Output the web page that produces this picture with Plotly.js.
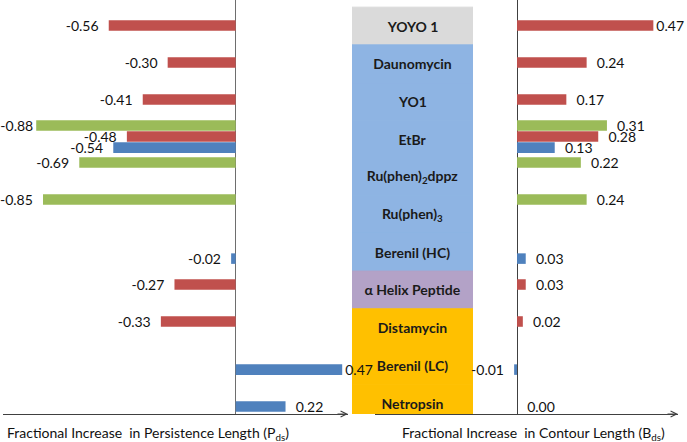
<!DOCTYPE html>
<html>
<head>
<meta charset="utf-8">
<script src="https://cdn.plot.ly/plotly-3.0.1.min.js"></script>
<style>html,body{margin:0;padding:0;background:#fff;}</style>
</head>
<body>
<div id="chart" style="width:687px;height:442px;"></div>
<script>
// ---- data ----
const categories = ["YOYO 1","Daunomycin","YO1","EtBr","Ru(phen)2dppz","Ru(phen)3","Berenil (HC)","α Helix Peptide","Distamycin","Berenil (LC)","Netropsin"];
const categoryLabels = ["YOYO 1","Daunomycin","YO1","EtBr","Ru(phen)<sub>2</sub>dppz","Ru(phen)<sub>3</sub>","Berenil (HC)","α Helix Peptide","Distamycin","Berenil (LC)","Netropsin"];
const bindingMode = ["Bis-intercalator","Intercalator","Intercalator","Intercalator","Intercalator","Intercalator","Intercalator","Peptide","Groove binder","Groove binder","Groove binder"];

// Fractional increase in persistence length (P_ds)
const persistGreen = [null,null,null,-0.88,-0.69,-0.85,null,null,null,null,null];
const persistRed   = [-0.56,-0.30,-0.41,-0.48,null,null,null,-0.27,-0.33,null,null];
const persistBlue  = [null,null,null,-0.54,null,null,-0.02,null,null,0.47,0.22];

// Fractional increase in contour length (B_ds)
const contourGreen = [null,null,null,0.31,0.22,0.24,null,null,null,null,null];
const contourRed   = [0.47,0.24,0.17,0.28,null,null,null,0.03,0.02,null,null];
const contourBlue  = [null,null,null,0.13,null,null,0.03,null,null,-0.01,0.00];

const leftTitle = "Fractional Increase  in Persistence Length (P<sub>ds</sub>)";
const rightTitle = "Fractional Increase  in Contour Length (B<sub>ds</sub>)";

// ---- styles ----
const modeColors = {"Bis-intercalator":"#DADADA","Intercalator":"#8EB4E3","Peptide":"#B3A2C7","Groove binder":"#FFC000"};
const GREEN = "#9BBB59", RED = "#C0504D", BLUE = "#4F81BD";
const FONT = "Lato, 'Open Sans', sans-serif";
const W = 687;
const leftPanel = {domain:[3/W, 348/W], range:[-1.0265, 0.4956]};
const rightPanel = {domain:[375/W, 678/W], range:[-0.4897, 0.555]};

// label text: padded away from the bar end, unless the label is squeezed against the panel edge
function labels(vals, panel){
  const pxPerUnit = (panel.domain[1] - panel.domain[0]) * W / (panel.range[1] - panel.range[0]);
  return vals.map(v => {
    if (v == null) return null;
    const s = v.toFixed(2);
    const room = (v < 0 ? v - panel.range[0] : panel.range[1] - v) * pxPerUnit;
    const pad = room < 36 ? "" : "\u00a0\u00a0";
    return v < 0 ? s + pad : pad + s;
  });
}
function barTrace(vals, color, xaxis, panel){
  return {
    type:"bar", orientation:"h", x:vals, y:categories, xaxis:xaxis, yaxis:"y",
    marker:{color:color, line:{width:0}},
    text:labels(vals, panel), textposition:"outside", constraintext:"none", cliponaxis:false,
    textfont:{family:FONT, size:14, color:"#111"}, hoverinfo:"skip", showlegend:false
  };
}

const boxColors = bindingMode.map(m => modeColors[m]);
const boxTrace = {
  type:"bar", orientation:"h", x:categories.map(() => 1), y:categories, xaxis:"x", yaxis:"y2",
  width:1, marker:{color:boxColors, line:{width:1, color:boxColors}},
  text:categoryLabels, texttemplate:"<b>%{text}</b>", textposition:"inside", insidetextanchor:"middle",
  constraintext:"none", insidetextfont:{family:FONT, size:14, color:"#1a1a1a"},
  hoverinfo:"skip", showlegend:false
};

const data = [
  boxTrace,
  barTrace(persistGreen, GREEN, "x2", leftPanel),
  barTrace(persistRed, RED, "x2", leftPanel),
  barTrace(persistBlue, BLUE, "x2", leftPanel),
  barTrace(contourGreen, GREEN, "x3", rightPanel),
  barTrace(contourRed, RED, "x3", rightPanel),
  barTrace(contourBlue, BLUE, "x3", rightPanel)
];

const hiddenX = {showgrid:false, showticklabels:false, ticks:"", zeroline:false, showline:false};
const layout = {
  width:W, height:442,
  margin:{l:0, r:0, t:0, b:28, pad:0},
  paper_bgcolor:"#fff", plot_bgcolor:"rgba(0,0,0,0)",
  font:{family:FONT, size:14, color:"#111"},
  barmode:"group", bargap:0.1, bargroupgap:0.05, showlegend:false,
  yaxis:{type:"category", categoryorder:"array", categoryarray:categories, range:[10.5,-0.69],
         visible:false, fixedrange:true},
  yaxis2:{type:"category", categoryorder:"array", categoryarray:categories, range:[10.29,-0.69],
         visible:false, fixedrange:true, anchor:"x", overlaying:"y"},
  xaxis: Object.assign({domain:[352/W, 473/W], range:[0,1], anchor:"y2"}, hiddenX, {visible:false}),
  xaxis2: Object.assign({}, hiddenX, {domain:leftPanel.domain, range:leftPanel.range, anchor:"y",
          showline:true, linecolor:"#404040", linewidth:1,
          zeroline:true, zerolinecolor:"#6e6e6e", zerolinewidth:1}),
  xaxis3: Object.assign({}, hiddenX, {domain:rightPanel.domain, range:rightPanel.range, anchor:"y",
          showline:true, linecolor:"#404040", linewidth:1,
          zeroline:true, zerolinecolor:"#404040", zerolinewidth:1}),
  annotations:[
    {xref:"x2 domain", yref:"y domain", x:1, y:0, ax:-12, ay:0, showarrow:true, text:"",
     arrowhead:5, arrowsize:1.2, arrowwidth:1, arrowcolor:"#404040"},
    {xref:"x3 domain", yref:"y domain", x:1, y:0, ax:-12, ay:0, showarrow:true, text:"",
     arrowhead:5, arrowsize:1.2, arrowwidth:1, arrowcolor:"#404040"},
    {xref:"paper", yref:"paper", x:148/W, y:1-433/414, xanchor:"center", yanchor:"middle",
     showarrow:false, text:leftTitle, font:{family:FONT, size:14, color:"#111"}},
    {xref:"paper", yref:"paper", x:533/W, y:1-433/414, xanchor:"center", yanchor:"middle",
     showarrow:false, text:rightTitle, font:{family:FONT, size:14, color:"#111"}}
  ]
};

Plotly.newPlot("chart", data, layout, {staticPlot:true, displayModeBar:false});
</script>
</body>
</html>
